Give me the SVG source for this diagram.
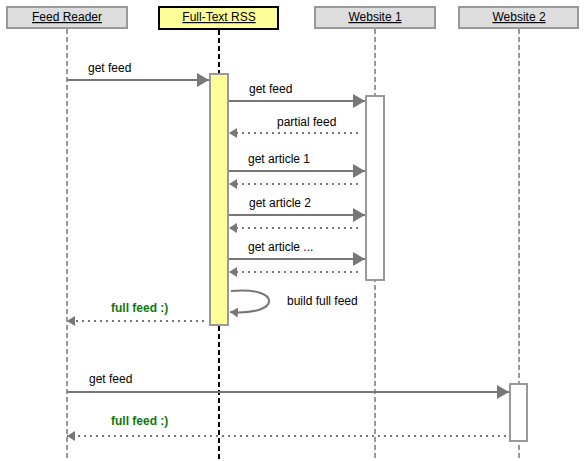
<svg xmlns="http://www.w3.org/2000/svg" width="584" height="461" viewBox="0 0 584 461">
<style>
.hdr{fill:#dddddd;stroke:#999999;stroke-width:2}
.hdrY{fill:#ffff99;stroke:#000000;stroke-width:2}
.ht{font-family:"Liberation Sans",Arial,sans-serif;font-size:12px;text-anchor:middle;text-decoration:underline;fill:#000}
.life{stroke:#999999;stroke-width:2;stroke-dasharray:5,3;fill:none}
.lifeB{stroke:#000000;stroke-width:2;stroke-dasharray:5,3;fill:none}
.act{fill:#ffffff;stroke:#999999;stroke-width:2}
.actY{fill:#ffff99;stroke:#999999;stroke-width:2}
.msg{stroke:#777777;stroke-width:2;fill:none}
.ret{stroke:#777777;stroke-width:2;stroke-dasharray:2,4;fill:none}
.lbl{font-family:"Liberation Sans",Arial,sans-serif;font-size:12px;fill:#000}
.glbl{font-family:"Liberation Sans",Arial,sans-serif;font-size:12px;font-weight:bold;fill:#117711}
</style>
<defs>
<marker id="ah" markerWidth="12" markerHeight="14" refX="12" refY="7" orient="auto" markerUnits="userSpaceOnUse">
<path d="M0,0 L12,7 L0,14 Z" fill="#777777"/>
</marker>
<marker id="ahs" markerWidth="8" markerHeight="10" refX="8" refY="5" orient="auto" markerUnits="userSpaceOnUse">
<path d="M0,0 L8,5 L0,10 Z" fill="#777777"/>
</marker>
</defs>
<g id="lifelines">
<line class="life" x1="67" y1="29" x2="67" y2="461"/>
<line class="lifeB" x1="219" y1="30" x2="219" y2="461"/>
<line class="life" x1="375" y1="29" x2="375" y2="461"/>
<line class="life" x1="519" y1="29" x2="519" y2="461"/>
</g>
<g id="feed-reader">
<rect class="hdr" x="7" y="7" width="120" height="21"/>
<text class="ht" x="67" y="21">Feed Reader</text>
</g>
<g id="full-text-rss">
<rect class="hdrY" x="159" y="7" width="119" height="22"/>
<text class="ht" x="219" y="21">Full-Text RSS</text>
<rect class="actY" x="210" y="74" width="18" height="251"/>
</g>
<g id="website-1">
<rect class="hdr" x="315" y="7" width="120" height="21"/>
<text class="ht" x="375" y="21">Website 1</text>
<rect class="act" x="366" y="96" width="18" height="184"/>
</g>
<g id="website-2">
<rect class="hdr" x="459" y="7" width="119" height="21"/>
<text class="ht" x="519" y="21">Website 2</text>
<rect class="act" x="510" y="384" width="17" height="57"/>
</g>
<g id="connectors">
<line class="msg" x1="67" y1="80" x2="209" y2="80" marker-end="url(#ah)"/>
<text class="lbl" x="88" y="72">get feed</text>
<line class="msg" x1="229" y1="101" x2="365" y2="101" marker-end="url(#ah)"/>
<text class="lbl" x="249" y="93">get feed</text>
<line class="ret" x1="358" y1="133" x2="229" y2="133" marker-end="url(#ahs)"/>
<text class="lbl" x="277" y="126">partial feed</text>
<line class="msg" x1="229" y1="171" x2="365" y2="171" marker-end="url(#ah)"/>
<text class="lbl" x="248" y="163">get article 1</text>
<line class="ret" x1="358" y1="184" x2="229" y2="184" marker-end="url(#ahs)"/>
<line class="msg" x1="229" y1="215" x2="365" y2="215" marker-end="url(#ah)"/>
<text class="lbl" x="249" y="207">get article 2</text>
<line class="ret" x1="358" y1="228" x2="229" y2="228" marker-end="url(#ahs)"/>
<line class="msg" x1="229" y1="259" x2="365" y2="259" marker-end="url(#ah)"/>
<text class="lbl" x="248" y="251">get article ...</text>
<line class="ret" x1="358" y1="272" x2="229" y2="272" marker-end="url(#ahs)"/>
<path class="msg" d="M231,291 C282,286 282,316 230,312" marker-end="url(#ahs)"/>
<text class="lbl" x="287" y="305">build full feed</text>
<line class="ret" x1="204" y1="321" x2="67" y2="321" marker-end="url(#ahs)"/>
<text class="glbl" x="111" y="312">full feed :)</text>
<line class="msg" x1="67" y1="392" x2="509" y2="392" marker-end="url(#ah)"/>
<text class="lbl" x="89" y="383">get feed</text>
<line class="ret" x1="506" y1="436" x2="67" y2="436" marker-end="url(#ahs)"/>
<text class="glbl" x="111" y="425">full feed :)</text>
</g>
</svg>
